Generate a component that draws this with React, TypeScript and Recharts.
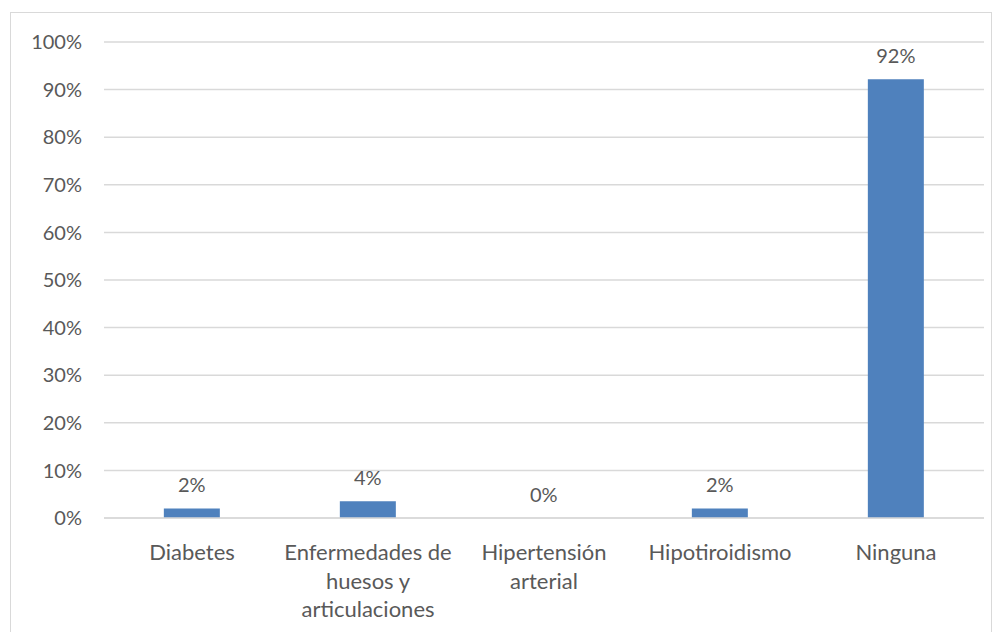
import { Bar, BarChart, CartesianGrid, LabelList, XAxis, YAxis } from 'recharts'

const categories = ['Diabetes', 'Enfermedades de huesos y articulaciones', 'Hipertensión arterial', 'Hipotiroidismo', 'Ninguna']
const tickLines = [
  ['Diabetes'],
  ['Enfermedades de', 'huesos y', 'articulaciones'],
  ['Hipertensión', 'arterial'],
  ['Hipotiroidismo'],
  ['Ninguna'],
]
const values = [2, 3.5, 0, 2, 92.2]
const yTicks = [0, 10, 20, 30, 40, 50, 60, 70, 80, 90, 100]

const data = categories.map((name, i) => ({ name, value: values[i] }))

const FONT = 'Lato, "Open Sans", sans-serif'
const TEXT = '#595959'

function CategoryTick(props: any) {
  const { x, y, index } = props
  const lines = tickLines[index] ?? [String(props.payload?.value)]
  return (
    <g transform={`translate(${x},${y})`}>
      {lines.map((l, i) => (
        <text key={i} x={0} y={i * 28.5 + 34} textAnchor="middle" fill={TEXT} fontSize={22} fontFamily={FONT}>
          {l}
        </text>
      ))}
    </g>
  )
}

export default function App() {
  return (
    <div style={{ position: 'absolute', left: 0, top: 0, width: 998, height: 632, background: '#fff', overflow: 'hidden' }}>
      <div style={{ position: 'absolute', left: 10, top: 12, width: 980, height: 640, border: '1px solid #d9d9d9' }} />
      <div style={{ position: 'absolute', left: 0, top: 0 }}>
        <BarChart width={998} height={632} data={data} margin={{ top: 42, right: 14, bottom: 0, left: 10 }} barCategoryGap="34%">
          <CartesianGrid vertical={false} stroke="#d9d9d9" strokeWidth={1.5} />
          <XAxis dataKey="name" axisLine={{ stroke: '#d9d9d9', strokeWidth: 1.5 }} tickLine={false} interval={0} tick={<CategoryTick />} height={114} />
          <YAxis
            width={94}
            domain={[0, 100]}
            ticks={yTicks}
            axisLine={false}
            tickLine={false}
            tickMargin={16}
            tickFormatter={(v: number) => `${v}%`}
            tick={{ fill: TEXT, fontSize: 20, fontFamily: FONT }}
          />
          <Bar dataKey="value" fill="#4f81bd" minPointSize={0.01} isAnimationActive={false}>
            <LabelList
              dataKey="value"
              position="top"
              offset={16}
              formatter={(v: any) => `${Math.round(Number(v))}%`}
              fill={TEXT}
              fontSize={20}
              fontFamily={FONT}
            />
          </Bar>
        </BarChart>
      </div>
    </div>
  )
}
